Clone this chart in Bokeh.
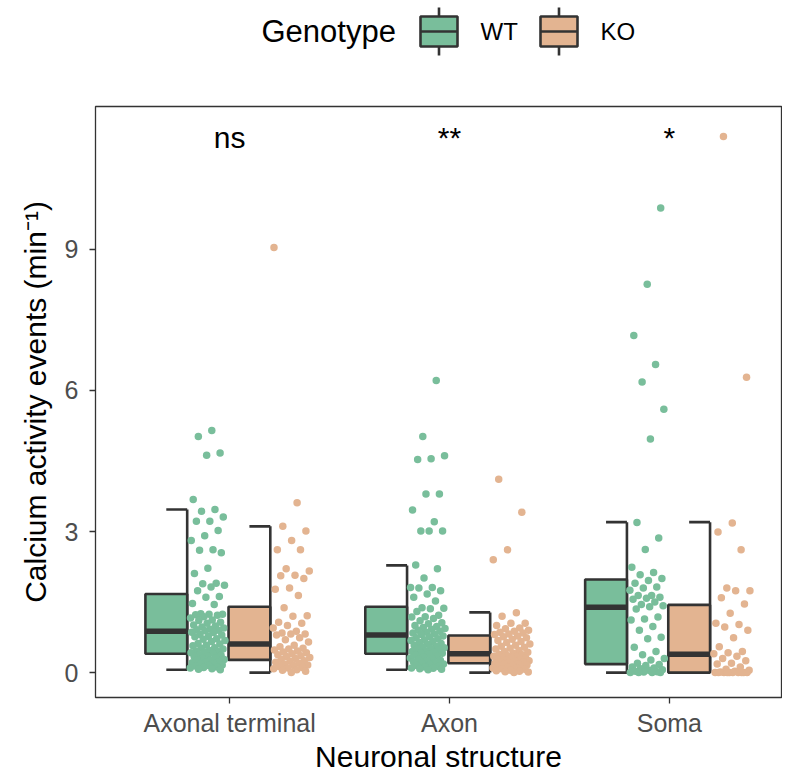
import numpy as np
from bokeh.plotting import figure
from bokeh.layouts import column
from bokeh.models import Range1d, FixedTicker
from bokeh.core.properties import value
from bokeh.embed import file_html
from bokeh.resources import INLINE

# ---------------- data ----------------
categories = ["Axonal terminal", "Axon", "Soma"]
genotypes = ["WT", "KO"]
annotations = ["ns", "**", "*"]

at_wt = [5.15, 5.02, 4.67, 4.62, 3.68, 3.47, 3.43, 3.31, 3.22, 3.22, 3.02, 2.91, 2.81, 2.61, 2.60, 2.55,
         2.22, 2.11, 1.90, 1.89, 1.86, 1.82, 1.74,
         1.62, 1.60, 1.47, 1.45, 1.25, 1.24, 1.24, 1.23, 1.22, 1.19, 1.16, 1.12, 1.11, 1.07, 1.05, 1.01,
         0.99, 0.97, 0.95, 0.92, 0.91, 0.90, 0.89,
         0.86, 0.85, 0.81, 0.80, 0.77, 0.76, 0.72, 0.71, 0.68, 0.66, 0.62, 0.61, 0.58, 0.57, 0.53, 0.52,
         0.50, 0.47, 0.46, 0.45, 0.43, 0.42, 0.41,
         0.38, 0.37, 0.35, 0.34, 0.31, 0.30, 0.28, 0.27, 0.26, 0.23, 0.22, 0.21, 0.19, 0.18, 0.16, 0.15,
         0.14, 0.12, 0.11, 0.10, 0.08, 0.07, 0.06]
at_ko = [9.04, 3.61, 3.11, 3.01, 2.81, 2.61, 2.61, 2.21, 2.16, 2.07, 2.06, 2.00, 1.80, 1.77, 1.64,
         1.38, 1.21, 1.20, 1.07, 1.05, 1.00, 0.95, 0.88, 0.84, 0.82, 0.82, 0.80, 0.74, 0.70, 0.65,
         0.58, 0.55, 0.52, 0.50, 0.48, 0.46, 0.44, 0.42, 0.40, 0.38, 0.36, 0.34, 0.32, 0.30, 0.28,
         0.25, 0.24, 0.22, 0.20, 0.18, 0.16, 0.15, 0.13, 0.11, 0.10, 0.08, 0.06, 0.05, 0.03, 0.00]
ax_wt = [6.21, 5.02, 4.61, 4.55, 4.53, 3.80, 3.80, 3.46, 3.21, 3.01, 3.01, 3.01, 2.29, 2.21, 2.01,
         1.81, 1.81, 1.80, 1.74, 1.67, 1.60, 1.52,
         1.38, 1.37, 1.36, 1.30, 1.22, 1.19, 1.18, 1.15, 1.10, 1.06, 1.04, 1.00, 0.98, 0.96, 0.94,
         0.92, 0.90, 0.88, 0.86, 0.84, 0.82, 0.81,
         0.78, 0.76, 0.74, 0.72, 0.70, 0.68, 0.66, 0.64, 0.62, 0.60, 0.58, 0.56, 0.55, 0.53, 0.51,
         0.50, 0.48, 0.46, 0.45, 0.43, 0.42, 0.41,
         0.39, 0.37, 0.35, 0.33, 0.31, 0.30, 0.28, 0.26, 0.25, 0.23, 0.21, 0.20, 0.18, 0.16, 0.15,
         0.13, 0.12, 0.10, 0.09, 0.08, 0.07, 0.06]
ax_ko = [4.11, 3.41, 2.61, 2.40, 1.27, 1.20, 1.05, 1.05, 1.00, 0.95, 0.93, 0.90, 0.88, 0.86, 0.84,
         0.82, 0.81,
         0.78, 0.76, 0.74, 0.71, 0.68, 0.66, 0.64, 0.61, 0.58, 0.56, 0.54, 0.52, 0.50, 0.47, 0.45,
         0.43, 0.41,
         0.39, 0.38, 0.36, 0.35, 0.34, 0.32, 0.31, 0.30, 0.29, 0.28, 0.26, 0.25, 0.24, 0.23, 0.22,
         0.21, 0.20,
         0.19, 0.18, 0.16, 0.15, 0.14, 0.12, 0.11, 0.10, 0.09, 0.08, 0.07, 0.05, 0.04, 0.03, 0.02,
         0.01, 0.00]
so_wt = [9.88, 8.26, 7.17, 6.55, 6.18, 5.60, 4.97, 3.19, 2.86, 2.62, 2.24, 2.13, 2.08, 2.00,
         1.96, 1.90, 1.82, 1.80, 1.75, 1.64, 1.64, 1.60, 1.58, 1.56, 1.50, 1.45, 1.42, 1.40,
         1.35, 1.18, 1.14, 1.12, 0.98, 0.90, 0.75, 0.72, 0.54, 0.45, 0.38, 0.30, 0.27, 0.20,
         0.17, 0.15, 0.12, 0.10, 0.08, 0.06, 0.05, 0.03, 0.02, 0.01, 0.00, 0.00, 0.00, 0.00]
so_ko = [11.40, 6.28, 3.18, 2.99, 2.61, 1.80, 1.74, 1.74, 1.59, 1.46,
         1.26, 1.05, 1.02, 0.97, 0.90, 0.74, 0.55, 0.45, 0.42, 0.40,
         0.35, 0.30, 0.25, 0.20, 0.18, 0.12, 0.07, 0.05, 0.03, 0.01,
         0.00, 0.00, 0.00, 0.00, 0.00, 0.00, 0.00, 0.00, 0.00, 0.00]

# box statistics (per category)
wt_low = [0.06, 0.06, 0.00]
wt_q1 = [0.40, 0.40, 0.18]
wt_med = [0.88, 0.80, 1.39]
wt_q3 = [1.67, 1.40, 1.98]
wt_high = [3.47, 2.28, 3.20]
ko_low = [0.00, 0.00, 0.00]
ko_q1 = [0.27, 0.20, 0.00]
ko_med = [0.61, 0.40, 0.39]
ko_q3 = [1.40, 0.79, 1.44]
ko_high = [3.11, 1.28, 3.20]
annotation_y = 11.38

# ---------------- styling ----------------
WT_COL = "#79BE9B"
KO_COL = "#E3B491"
DARK = "#333333"
FONT = "Liberation Sans"

box_w = 0.19
box_off = {"WT": -0.288, "KO": 0.09}
pt_center = {"WT": -0.10, "KO": 0.282}
pt_half = {"WT": 0.08, "KO": 0.085}

FRAME_L, FRAME_W = 95, 686

p = figure(frame_width=FRAME_W, frame_height=591,
           x_range=Range1d(0.39, 3.51), y_range=Range1d(-0.53, 12.04),
           output_backend="svg", toolbar_location=None,
           min_border_left=FRAME_L, min_border_right=1, min_border_top=18, min_border_bottom=10)
p.xgrid.visible = False
p.ygrid.visible = False
p.outline_line_color = DARK
p.outline_line_width = 1.3
p.background_fill_color = "white"
p.border_fill_color = "white"

xs = np.arange(1, len(categories) + 1, dtype=float)

stats = {
    "WT": (wt_low, wt_q1, wt_med, wt_q3, wt_high),
    "KO": (ko_low, ko_q1, ko_med, ko_q3, ko_high),
}
colors = {"WT": WT_COL, "KO": KO_COL}

for g in genotypes:
    low, q1, med, q3, high = [np.array(a) for a in stats[g]]
    cx = xs + box_off[g]
    right = cx + box_w / 2
    left = cx - box_w / 2
    p.segment(x0=right, y0=low, x1=right, y1=high, line_color=DARK, line_width=2.6)
    p.segment(x0=right - box_w / 2, y0=high, x1=right, y1=high, line_color=DARK, line_width=2.6)
    p.segment(x0=right - box_w / 2, y0=low, x1=right, y1=low, line_color=DARK, line_width=2.6)
    p.quad(left=left, right=right, bottom=q1, top=q3, fill_color=colors[g],
           line_color=DARK, line_width=2.6)
    p.segment(x0=left, y0=med, x1=right, y1=med, line_color=DARK, line_width=5.5)

groups = {
    ("WT", 0): at_wt, ("KO", 0): at_ko,
    ("WT", 1): ax_wt, ("KO", 1): ax_ko,
    ("WT", 2): so_wt, ("KO", 2): so_ko,
}
phi = 0.6180339887
for (g, ci), vals in groups.items():
    vals = np.array(vals)
    n = len(vals)
    seed = 0.13 * ci + (0.41 if g == "KO" else 0.0)
    u = np.mod((np.arange(n) + 1) * phi + seed, 1.0)
    px = xs[ci] + pt_center[g] + pt_half[g] * (2 * u - 1)
    p.scatter(px, vals, size=7.5, fill_color=colors[g], line_color=None)

p.text(x=xs, y=[annotation_y] * 3, text=annotations, text_align="center", text_baseline="alphabetic",
       text_font=value(FONT), text_font_size="30px", text_color="black")

# axes
p.xaxis.ticker = FixedTicker(ticks=list(xs))
p.xaxis.major_label_overrides = {float(x): c for x, c in zip(xs, categories)}
p.yaxis.ticker = FixedTicker(ticks=[0, 3, 6, 9])
for ax in (p.xaxis[0], p.yaxis[0]):
    ax.axis_line_color = None
    ax.major_tick_line_color = DARK
    ax.major_tick_line_width = 1.3
    ax.major_tick_out = 6
    ax.major_tick_in = 0
    ax.minor_tick_line_color = None
    ax.major_label_text_font = FONT
    ax.major_label_text_font_size = "25px"
    ax.major_label_text_color = "#4D4D4D"
    ax.axis_label_text_font = FONT
    ax.axis_label_text_font_size = "30px"
    ax.axis_label_text_font_style = "normal"
    ax.axis_label_text_color = "black"
p.xaxis.axis_label = "Neuronal structure"
p.yaxis.axis_label = "Calcium activity events (min\u207b\u00b9)"
p.xaxis.major_label_standoff = 5
p.xaxis.axis_label_standoff = 0
p.yaxis.major_label_standoff = 11
p.yaxis.axis_label_standoff = 10

# ---------------- legend (separate strip above, page-pixel coordinates) ----------------
leg = figure(frame_width=FRAME_W, frame_height=88,
             x_range=Range1d(FRAME_L, FRAME_L + FRAME_W), y_range=Range1d(88, 0),
             output_backend="svg", toolbar_location=None,
             min_border_left=FRAME_L, min_border_right=1, min_border_top=0, min_border_bottom=0)
leg.axis.visible = False
leg.grid.visible = False
leg.outline_line_color = None
cy = 31
leg.text(x=[261], y=[cy], text=["Genotype"], text_align="left", text_baseline="middle",
         text_font=value(FONT), text_font_size="31px", text_color="black")
key_left = [420, 540]
for g, kl in zip(genotypes, key_left):
    kc = kl + 18.5
    leg.segment(x0=[kc], y0=[cy - 24], x1=[kc], y1=[cy + 24], line_color=DARK, line_width=2.6)
    leg.quad(left=[kl], right=[kl + 37], top=[cy - 15], bottom=[cy + 15], fill_color=colors[g],
             line_color=DARK, line_width=2.6)
    leg.segment(x0=[kl], y0=[cy], x1=[kl + 37], y1=[cy], line_color=DARK, line_width=2.6)
    leg.text(x=[kl + 60], y=[cy], text=[g], text_align="left", text_baseline="middle",
             text_font=value(FONT), text_font_size="24px", text_color="black")

layout = column(leg, p, spacing=0)
open("out.html", "w").write(file_html(layout, INLINE))
